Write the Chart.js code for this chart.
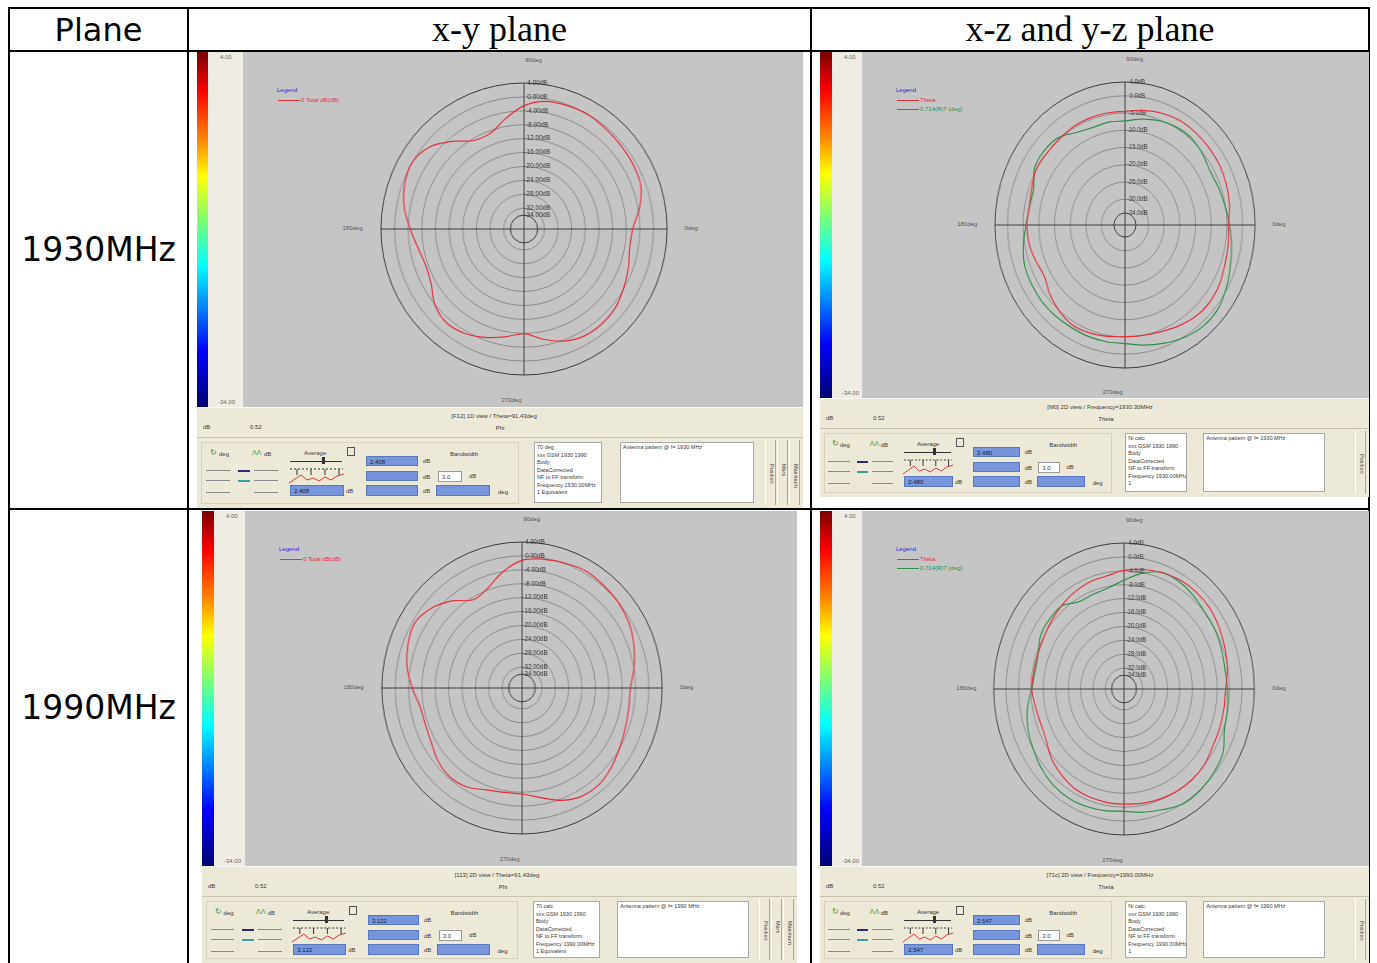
<!DOCTYPE html>
<html>
<head>
<meta charset="utf-8">
<title>Antenna patterns</title>
<script src="https://cdn.jsdelivr.net/npm/chart.js@4.4.1/dist/chart.umd.min.js"></script>
<style>
  html, body { margin: 0; padding: 0; background: #fff; }
  body { position: relative; width: 1377px; height: 963px; overflow: hidden; }
  .ln { position: absolute; background: #000; }
  .hd { position: absolute; text-align: center; color: #000; white-space: nowrap; line-height: 40px; }
  .sans { font-family: "DejaVu Sans", Verdana, sans-serif; }
  .serif { font-family: "Liberation Serif", "Times New Roman", serif; }
  .s { position: absolute; white-space: nowrap; font-family: "Liberation Sans", Arial, sans-serif; font-size: 6px; color: #3a3a3a; line-height: 1; }
</style>
</head>
<body>
<!-- table grid -->
<div class="ln" style="left:8px;top:7px;width:1362px;height:2px"></div>
<div class="ln" style="left:8px;top:50px;width:1362px;height:2px"></div>
<div class="ln" style="left:8px;top:508px;width:1362px;height:2px"></div>
<div class="ln" style="left:8px;top:7px;width:2px;height:956px"></div>
<div class="ln" style="left:187px;top:7px;width:2px;height:956px"></div>
<div class="ln" style="left:810px;top:7px;width:2px;height:956px"></div>
<div class="ln" style="left:1368px;top:7px;width:2px;height:956px"></div>

<div class="hd sans" style="left:10px;top:10px;width:177px;font-size:32px">Plane</div>
<div class="hd serif" style="left:189px;top:9px;width:621px;font-size:36px">x-y plane</div>
<div class="hd serif" style="left:812px;top:9px;width:556px;font-size:36px">x-z and y-z plane</div>
<div class="hd sans" style="left:10px;top:230px;width:177px;font-size:33px">1930MHz</div>
<div class="hd sans" style="left:10px;top:688px;width:177px;font-size:33px">1990MHz</div>

<script>
// angles of the measured samples (deg, counter-clockwise from 0deg at the right)
const angles = [0, 10, 20, 30, 40, 50, 60, 70, 80, 90, 100, 110, 120, 130, 140, 150, 160, 170,
                180, 190, 200, 210, 220, 230, 240, 250, 260, 270, 280, 290, 300, 310, 320, 330, 340, 350];

// 1930 MHz, x-y plane, total gain (dB)
const xy1930Total = [-6.1, -3.6, -1.5, -1.0, -0.8, -0.5, -0.1, -0.3, -0.7, -2.5, -5.9, -8.8,
                     -8.6, -5.1, -1.5, 0.0, -0.7, -2.3, -4.6, -6.4, -7.3, -6.5, -3.9, -2.7,
                     -3.3, -4.8, -6.5, -7.9, -5.8, -3.7, -2.5, -2.4, -2.9, -4.2, -5.4, -6.5];
// 1930 MHz, x-z / y-z planes (dB)
const xz1930Red = [-4.5, -3.7, -3.1, -2.7, -2.6, -2.5, -2.5, -3.0, -3.7, -4.5, -4.5, -4.5,
                   -4.6, -4.9, -5.0, -4.9, -5.9, -6.5, -6.2, -6.4, -7.2, -7.8, -6.2, -4.9,
                   -4.0, -4.2, -4.7, -5.1, -5.0, -4.5, -3.6, -2.7, -2.4, -2.8, -3.6, -4.1];
const xz1930Green = [-4.2, -5.1, -5.8, -6.2, -5.3, -4.6, -4.7, -5.3, -6.3, -7.3, -7.2, -7.4,
                     -6.5, -4.4, -3.9, -4.2, -6.5, -6.6, -5.9, -4.6, -3.4, -3.1, -2.9, -3.0,
                     -3.2, -3.1, -3.1, -3.1, -2.1, -1.0, 0.2, 1.0, 0.9, -0.3, -1.8, -3.0];
// 1990 MHz, x-y plane, total gain (dB)
const xy1990Total = [-5.5, -3.9, -2.3, -0.9, -0.1, 0.3, 0.7, 0.2, -0.4, -1.3, -4.2, -7.6,
                     -8.7, -5.3, -2.4, -0.8, -1.6, -3.0, -5.1, -7.0, -7.2, -6.6, -5.2, -4.5,
                     -5.1, -6.8, -7.5, -7.5, -6.0, -3.6, -2.1, -1.9, -2.9, -4.1, -5.0, -5.5];
// 1990 MHz, x-z / y-z planes (dB)
const xz1990Red = [-5.3, -4.2, -3.4, -2.6, -1.9, -1.7, -1.8, -2.4, -3.1, -3.9, -5.0, -5.3,
                   -5.9, -6.7, -7.5, -8.2, -8.5, -8.5, -8.3, -9.0, -9.4, -9.0, -7.3, -6.2,
                   -5.3, -5.0, -4.9, -4.9, -4.6, -4.3, -4.0, -3.9, -4.2, -5.0, -5.2, -5.3];
const xz1990Green = [-4.7, -5.0, -4.6, -4.1, -3.9, -3.1, -2.4, -2.3, -4.2, -6.7, -8.5, -9.0,
                     -9.0, -6.8, -6.7, -7.0, -8.6, -8.9, -8.3, -6.4, -5.0, -4.1, -3.0, -2.2,
                     -1.9, -2.1, -2.5, -2.8, -2.0, -1.1, 0.1, 0.1, -0.4, -1.2, -3.6, -4.2];

// ring labels
const xyTicks = [4, 0, -4, -8, -12, -16, -20, -24, -28, -32, -34];
const xz1930Ticks = [4, 0, -5, -10, -15, -20, -25, -30, -34];

const red = '#e2323c';
const green = '#2e8f46';

const panels = [
  { x: 197, y: 52, w: 606, barW: 11, stripW: 35, plotH: 355, footH: 30, ctrlH: 71,
    cx: 523.5, cy: 228.5, r: 150, kx: 0.98, min: -38, ticks: xyTicks, dec: 2,
    series: [{ name: '0 Total dB(dB)', values: xy1930Total, color: red }],
    view: '[F12] 1D view / Theta=91.43deg', titleX: 494, axis: 'Phi', val: '2.408',
    info: ['70 deg', 'xxx GSM 1930 1990', 'Body', 'DataCorrected', 'NF to FF transform', 'Frequency 1930.00MHz', '1 Equivalent'],
    note: 'Antenna pattern  @ f= 1930 MHz', buttons: ['Position', 'Mark', 'Maximum'] },
  { x: 820, y: 52, w: 549, barW: 12, stripW: 30, plotH: 346, footH: 30, ctrlH: 69,
    cx: 1124.7, cy: 224.7, r: 146.7, kx: 0.91, min: -37.5, ticks: xz1930Ticks, dec: 1,
    series: [{ name: 'Theta', values: xz1930Red, color: red },
             { name: '0.714(R)7 (deg)', values: xz1930Green, color: green }],
    view: '[M0] 2D view / Frequency=1930.30MHz', titleX: 1100, axis: 'Theta', val: '2.480',
    info: ['Ni calc', 'xxx GSM 1930 1990', 'Body', 'DataCorrected', 'NF to FF transform', 'Frequency 1930.00MHz', '1'],
    note: 'Antenna pattern  @ f= 1930 MHz', buttons: ['Position'] },
  { x: 202, y: 511, w: 595, barW: 12, stripW: 31, plotH: 355, footH: 30, ctrlH: 67,
    cx: 521.7, cy: 688, r: 150, kx: 0.96, min: -38, ticks: xyTicks, dec: 2,
    series: [{ name: '0 Total dB(dB)', values: xy1990Total, color: red }],
    view: '[113] 2D view / Theta=91.43deg', titleX: 497, axis: 'Phi', val: '3.122',
    info: ['70 calc', 'xxx GSM 1930 1990', 'Body', 'DataCorrected', 'NF to FF transform', 'Frequency 1990.00MHz', '1 Equivalent'],
    note: 'Antenna pattern  @ f= 1990 MHz', buttons: ['Position', 'Mark', 'Maximum'] },
  { x: 820, y: 511, w: 549, barW: 12, stripW: 30, plotH: 355, footH: 30, ctrlH: 67,
    cx: 1124.3, cy: 688.7, r: 150, kx: 0.893, min: -38, ticks: xyTicks, dec: 1,
    series: [{ name: 'Theta', values: xz1990Red, color: red },
             { name: '0.714(R)7 (deg)', values: xz1990Green, color: green }],
    view: '[71c] 2D view / Frequency=1990.00MHz', titleX: 1100, axis: 'Theta', val: '2.547',
    info: ['Ni calc', 'xxx GSM 1930 1990', 'Body', 'DataCorrected', 'NF to FF transform', 'Frequency 1990.00MHz', '1'],
    note: 'Antenna pattern  @ f= 1990 MHz', buttons: ['Position'] }
];

function el(x, y, w, h, css) {
  const d = document.createElement('div');
  d.style.cssText = 'position:absolute;left:' + x + 'px;top:' + y + 'px;' +
    (w != null ? 'width:' + w + 'px;' : '') + (h != null ? 'height:' + h + 'px;' : '') + (css || '');
  document.body.appendChild(d);
  return d;
}
function label(x, y, s, css) {
  const d = el(x, y, null, null, css);
  d.className = 's';
  d.textContent = s;
  return d;
}

function polarChart(p) {
  const n = angles.length, step = 360 / n;
  const labels = [];
  const datasets = p.series.map(s => ({
    label: s.name, data: [], borderColor: s.color, borderWidth: 1.2,
    pointRadius: 0, fill: false, tension: 0.35
  }));
  // radar runs clockwise from the top, the pattern counter-clockwise from the right
  for (let i = 0; i < n; i++) {
    const a = ((90 - i * step) % 360 + 360) % 360;
    const k = angles.indexOf(a);
    labels.push(a + 'deg');
    p.series.forEach((s, j) => datasets[j].data.push(s.values[k]));
  }
  const size = Math.round(2 * p.r);
  const wrap = el(0, 0, size + 8, size + 12, '');
  const cv = document.createElement('canvas');
  cv.width = size + 8;
  cv.height = size + 12;
  wrap.appendChild(cv);
  const ticks = p.ticks.slice().sort((a, b) => a - b);
  const chart = new Chart(cv, {
    type: 'radar',
    data: { labels: labels, datasets: datasets },
    options: {
      responsive: false,
      animation: false,
      events: [],
      layout: { padding: 4 },
      plugins: { legend: { display: false }, tooltip: { enabled: false } },
      scales: {
        r: {
          min: p.min,
          max: 4,
          beginAtZero: false,
          afterBuildTicks: sc => { sc.ticks = ticks.map(v => ({ value: v })); },
          ticks: {
            showLabelBackdrop: false,
            backdropPadding: 0,
            color: '#333',
            font: { family: 'Liberation Sans', size: 6.5 },
            callback: v => ' '.repeat(15) + v.toFixed(p.dec) + 'dB'
          },
          grid: {
            circular: true,
            color: c => (c.tick && (c.tick.value === 4 || c.tick.value === -34)) ? '#3c3c3c' : '#8f8f8f',
            lineWidth: 1
          },
          angleLines: {
            display: true,
            color: '#3c3c3c',
            lineWidth: c => (c.index % (n / 4) === 0 ? 1 : 0)
          },
          pointLabels: { display: false }
        }
      }
    }
  });
  const sc = chart.scales.r;
  wrap.style.left = (p.cx - sc.xCenter) + 'px';
  wrap.style.top = (p.cy - sc.yCenter) + 'px';
  wrap.style.transformOrigin = sc.xCenter + 'px ' + sc.yCenter + 'px';
  wrap.style.transform = 'scaleX(' + p.kx + ')';
}

function screen(p) {
  const px = p.x + p.barW + p.stripW;
  const pw = p.w - p.barW - p.stripW;
  // colour scale
  el(p.x, p.y, p.barW, p.plotH + 1,
    'background:linear-gradient(to bottom,#7a0000 0%,#ff0000 11%,#ff8000 24%,#ffff00 35%,#80ff70 47%,#00ffff 60%,#0080ff 72%,#0000ff 84%,#00006e 100%)');
  el(p.x + p.barW, p.y, p.stripW, p.plotH, 'background:#efede3');
  label(p.x + p.barW + 12, p.y + 2, '4.00', 'color:#666');
  label(p.x + p.barW + 10, p.y + p.plotH - 8, '-34.00', 'color:#666');
  // plot field
  el(px, p.y, pw, p.plotH, 'background:#c5c5c5');
  label(px + 34, p.y + 35, 'Legend', 'color:#2b2bd0');
  p.series.forEach((s, i) => {
    const yy = p.y + 45 + i * 9;
    el(px + 35, yy + 3, 22, 1, 'background:' + s.color);
    label(px + 58, yy, s.name, 'color:' + s.color);
  });
  const rx = p.r * p.kx;
  label(p.cx + 10, p.cy - p.r - 22, '90deg', 'transform:translateX(-50%);color:#555');
  label(p.cx + rx + 14, p.cy - 4, '0deg', 'color:#555');
  label(p.cx - rx - 14, p.cy - 4, '180deg', 'transform:translateX(-100%);color:#555');
  label(p.cx - 12, p.cy + p.r + 18, '270deg', 'transform:translateX(-50%);color:#555');
  polarChart(p);
  // caption strip
  const fy = p.y + p.plotH;
  el(p.x, fy, p.w, p.footH, 'background:#ece9d8;border-top:1px solid #f8f8f4;box-sizing:border-box');
  label(p.titleX, fy + 6, p.view, 'transform:translateX(-50%)');
  label(p.x + 6, fy + 17, 'dB');
  label(p.x + 53, fy + 17, '0.52');
  label(p.titleX + 6, fy + 18, p.axis, 'transform:translateX(-50%)');
  controls(p);
}

function controls(p) {
  const x0 = p.x, y0 = p.y + p.plotH + p.footH, w = p.w, h = p.ctrlH;
  const sx = w / 606;
  const X = v => x0 + v * sx;
  const blue = 'background:#7895dc;border:1px solid #5a78c0;box-sizing:border-box;';
  el(x0, y0, w, h, 'background:#ece9d8;border-top:1px solid #c8c4b0;box-sizing:border-box');
  el(X(4), y0 + 5, 318 * sx, h - 9, 'border:1px solid #d6d2bf;box-sizing:border-box');
  label(X(13), y0 + 12, '\u21bb', 'color:#3a9a3a;font-size:8px');
  label(X(22), y0 + 14, 'deg');
  label(X(55), y0 + 12, '\u039b\u039b', 'color:#3a9a3a;font-size:7px');
  label(X(67), y0 + 14, 'dB');
  [[33, '#2b2b7a'], [43, '#3aa0a0'], [55, null]].forEach(r => {
    el(X(9), y0 + r[0], 24 * sx, 1, 'background:#8a8a8a');
    if (r[1]) el(X(41), y0 + r[0], 12 * sx, 2, 'background:' + r[1]);
    el(X(57), y0 + r[0], 24 * sx, 1, 'background:#8a8a8a');
  });
  label(X(107), y0 + 13, 'Average');
  el(X(93), y0 + 24, 52 * sx, 1, 'background:#333');
  el(X(125), y0 + 20, 3, 7, 'background:#333');
  el(X(150), y0 + 10, 8, 9, 'border:1px solid #555;box-sizing:border-box');
  const sv = el(X(92), y0 + 29, 56 * sx, 20, '');
  const sw = Math.round(56 * sx);
  sv.innerHTML = '<svg width="' + sw + '" height="20" viewBox="0 0 56 20" preserveAspectRatio="none">' +
    '<line x1="1" y1="3" x2="54" y2="3" stroke="#333" stroke-dasharray="2,2"/>' +
    '<path d="M8 3 l0 6 M22 3 l0 6 M36 3 l0 6 M50 3 l0 6" stroke="#333"/>' +
    '<polyline points="0,17 6,13 12,9 18,14 24,12 30,15 36,11 42,14 48,10 55,8" fill="none" stroke="#d23a3a"/>' +
    '</svg>';
  el(X(169), y0 + 19, 52 * sx, 10, blue).innerHTML = '<span class="s" style="left:3px;top:2px;color:#123">' + p.val + '</span>';
  el(X(169), y0 + 34, 52 * sx, 10, blue);
  el(X(169), y0 + 48, 52 * sx, 11, blue);
  el(X(93), y0 + 48, 54 * sx, 11, blue).innerHTML = '<span class="s" style="left:3px;top:2px;color:#123">' + p.val + '</span>';
  label(X(226), y0 + 21, 'dB');
  label(X(226), y0 + 37, 'dB');
  label(X(226), y0 + 51, 'dB');
  label(X(149), y0 + 51, 'dB');
  label(X(253), y0 + 14, 'Bandwidth');
  el(X(241), y0 + 34, 24 * sx, 11, 'background:#fff;border:1px solid #9a9a9a;box-sizing:border-box')
    .innerHTML = '<span class="s" style="left:3px;top:2px">3.0</span>';
  label(X(272), y0 + 36, 'dB');
  el(X(239), y0 + 48, 54 * sx, 11, blue);
  label(X(301), y0 + 52, 'deg');
  const ib = el(X(337), y0 + 5, 68 * sx, h - 10, 'background:#fff;border:1px solid #a8a8a8;box-sizing:border-box;overflow:hidden');
  p.info.forEach((t, i) => {
    const s = document.createElement('span');
    s.className = 's';
    s.style.cssText = 'left:2px;top:' + (2 + i * 7.5) + 'px;font-size:5.5px';
    s.textContent = t;
    ib.appendChild(s);
  });
  el(X(423), y0 + 5, 134 * sx, h - 10, 'background:#fff;border:1px solid #a8a8a8;box-sizing:border-box')
    .innerHTML = '<span class="s" style="left:2px;top:2px;font-size:5.5px">' + p.note + '</span>';
  p.buttons.forEach((b, i) => {
    const bx = x0 + w - 36 + i * 12 - (p.buttons.length - 1) * 0;
    const d = el(x0 + w - 12 * p.buttons.length - 2 + i * 12, y0 + 3, 11, h - 6,
      'border-left:1px solid #fff;border-right:1px solid #aca899;box-sizing:border-box;overflow:hidden');
    d.innerHTML = '<span class="s" style="left:2px;top:' + (h / 2 - 12) + 'px;writing-mode:vertical-rl;font-size:5.5px">' + b + '</span>';
  });
}

panels.forEach(screen);
</script>
</body>
</html>
